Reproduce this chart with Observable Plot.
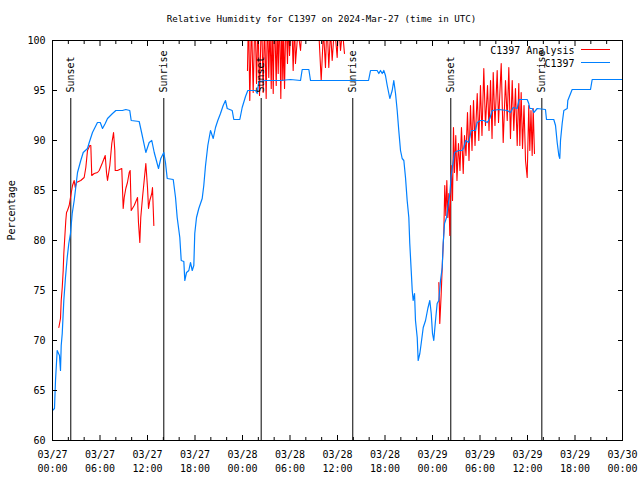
<!DOCTYPE html>
<html>
<head>
<meta charset="utf-8">
<script src="https://cdn.jsdelivr.net/npm/d3@7"></script>
<script src="https://cdn.jsdelivr.net/npm/@observablehq/plot@0.6"></script>
<style>
  body { margin: 0; background: #fff; }
  #chart svg { display: block; }
</style>
</head>
<body>
<div id="chart"></div>
<script>
// ---- Data (hours since 2024-03-27 00:00 UTC) ----
const titleText = "Relative Humidity for C1397 on 2024-Mar-27 (time in UTC)";
const yLabel = "Percentage";
const seriesNames = ["C1397 Analysis", "C1397"];
const seriesColors = ["#ff0000", "#0080ff"];

const obsHours = [0,0.25,0.38,0.59,0.88,1.01,1.1,1.23,1.43,1.64,1.86,2.06,2.27,2.49,2.74,3.16,3.57,3.88,4.42,4.64,5.05,5.68,6.03,6.32,6.66,6.95,7.58,8.0,8.84,9.26,9.76,9.94,10.95,11.28,11.79,12.21,12.54,12.85,13.39,13.68,14.06,14.27,14.49,15.25,15.54,15.75,16.08,16.26,16.59,16.71,16.93,17.22,17.43,17.65,17.85,17.97,18.19,18.48,18.91,19.11,19.33,19.62,19.96,20.3,20.59,20.88,21.22,21.56,21.85,22.07,22.7,22.9,23.66,23.96,24.38,24.67,25.64,25.86,26.06,26.91,28.8,30.06,31.33,31.54,32.38,32.59,33.85,36.38,39.92,40.17,41.01,41.22,41.43,41.65,41.85,42.06,42.28,42.61,42.91,43.11,43.33,43.54,43.74,43.96,44.17,44.38,44.59,44.8,45.01,45.13,45.31,45.44,45.56,45.73,45.85,46.07,46.19,46.4,46.57,46.83,47.12,47.41,47.66,47.84,48.0,48.16,48.38,48.59,48.8,49.01,49.23,49.35,49.52,49.77,49.93,50.19,50.36,50.49,50.78,51.32,51.75,51.96,52.17,52.58,52.89,53.43,53.64,54.06,54.48,54.91,55.24,55.54,56.38,57.44,57.85,58.19,58.7,58.95,59.96,60.16,60.29,60.6,60.8,61.23,62.27,62.4,63.32,63.54,63.75,63.96,64.08,64.17,64.38,64.59,65.02,65.09,65.64,67.96,68.17,72];
const obsValues = [63,63.2,66,69,68.5,67,69.5,70.7,74,76.3,78.3,79.7,80.7,82.7,84,86.8,88,88.8,89.2,89.8,90.8,91.8,91.8,91.2,91.7,92.2,92.7,93,93,93.1,93,92,91.9,90.7,88.8,89.8,90,88.8,87.2,88.2,88.8,87.8,86.2,86.1,84.3,82.3,80.3,78,77.9,76,76.8,77,77.8,77,77.5,80.7,82.3,83.2,84.2,85.5,87.5,89.5,91,90.2,91.3,92,92.7,93.5,94,93.2,93,92.1,92.1,93.3,94.4,95,95,94.7,95.9,96,96,96.1,96,97.1,97.1,96,96,96,96,97,97,96.7,97,96.7,97,96.5,95.5,94.2,95,96,94.7,93,91,89,88.2,88,86.3,84,82.3,79.7,77,75,74,74.7,72,70.3,68,68.7,69.7,71.3,72,73.2,74,72.7,70.7,70,72,73.7,74,76,77.3,79.7,81.7,82.3,83.3,84.7,86.5,87.2,88.8,89,89,89.3,90,89.8,91,91,91.8,92,92,91.8,92.2,93,93.1,93,92.8,93.3,93.2,94.1,94.1,93.7,93.2,93.2,92.8,93.2,93.1,92.1,92.1,91.5,89.8,88.5,88.2,90,91.7,93,93.2,94,95.1,95.1,96.1,96.1];

const anaHours = [0.80,1.01,1.10,1.23,1.35,1.43,1.55,1.68,1.77,1.89,2.11,2.31,2.53,2.74,2.87,3.03,3.57,4.0,4.21,4.42,4.71,4.84,4.96,5.27,5.68,5.9,6.32,6.66,6.82,6.95,7.24,7.49,7.71,7.87,7.92,8.21,8.75,8.93,9.06,9.26,9.47,9.69,9.81,9.94,10.32,10.74,10.86,11.03,11.15,11.37,11.58,11.79,12.0,12.13,12.29,12.54,12.63,12.8,
  18.0,
  24.63,24.76,24.92,25.14,25.35,25.58,25.77,25.96,26.15,26.40,26.61,26.78,26.99,27.16,27.32,27.47,27.63,27.75,27.88,28.04,28.26,28.38,28.51,28.67,28.84,28.96,29.09,29.18,29.31,29.49,29.68,29.81,29.94,30.19,30.40,30.57,30.69,31.01,31.33,31.58,31.96,32.59,33.22,33.60,33.94,34.23,34.48,34.67,34.90,35.12,35.33,35.62,35.96,36.13,36.38,36.63,36.88,
  42.0,
  48.80,48.92,49.10,49.26,49.43,49.55,49.68,49.81,49.93,50.06,50.19,50.36,50.53,50.65,50.78,50.94,51.09,51.28,51.47,51.66,51.88,52.04,52.23,52.42,52.61,52.80,52.99,53.18,53.37,53.65,53.85,54.06,54.25,54.48,54.69,54.95,55.14,55.33,55.52,55.67,55.89,56.17,56.34,56.68,56.93,57.22,57.44,57.64,57.85,58.07,58.27,58.48,58.70,58.90,59.03,59.20,59.37,59.56,59.75,59.96,60.16,60.29,60.44,60.59,60.72,60.88];
const anaValues = [71.3,72.2,74,75.3,77,78.7,80.3,82,82.8,83,83.5,84.5,85.5,86,85.3,85.8,86,86.3,87.3,89,89.5,89.5,86.5,86.7,86.8,87,87.8,88.5,86.8,86,87.5,89.7,90.8,89,87,87,87.2,83.2,84.3,85.2,85.8,86.8,87,83,83.5,84.3,81.8,79.8,82.3,84.3,86,87.7,85.3,83.2,84,84.7,85.3,81.5,
  NaN,
  97,103,94.0,102,94.8,103,95.7,102,94.5,103,94.8,102,94.2,103,96.3,101.5,95.2,102,94.7,103,95.5,102,96.7,103,94.2,102,96,101,95.2,103,97.7,102,98.5,103,97,102,97.7,101,99,102,101,103,102,101.5,96,101,97.3,102,97.3,101,98,101.5,98.3,102,99,101,98.7,
  NaN,
  75.8,71.7,74.7,78,80.8,85.5,82.5,86,82.3,84.7,80.5,87.5,84,91.3,86.8,90.5,86,89.7,87,91.3,86.7,90.5,88.5,92.8,88,93.5,89,94,89.5,94.7,90,95.5,90.5,97.2,91.5,95.5,91,96,90.2,96.8,91.5,97,91.8,97.7,89.8,96,92,97.3,90.2,96,91,95.2,89.5,95.7,89.5,94.8,89.2,93.5,88,86.3,93.5,89,93,88.5,93.2,88.7];

const eventHours = [2.31, 14.06, 26.36, 37.93, 50.31, 61.81];
const eventLabels = ["Sunset", "Sunrise", "Sunset", "Sunrise", "Sunset", "Sunrise"];

const yTicks = [60, 65, 70, 75, 80, 85, 90, 95, 100];

// ---- Build tables ----
const base = Date.UTC(2024, 2, 27);
const toDate = h => new Date(base + h * 3600e3);
const xDomain = [toDate(0), toDate(72)];
const majorTicks = d3.utcHour.every(6).range(xDomain[0], toDate(72.01));
const minorTicks = d3.utcHour.every(2).range(xDomain[0], toDate(72.01)).filter(d => d.getUTCHours() % 6 !== 0);
const fmt = d3.utcFormat("%m/%d\n%H:%M");

const obs = obsHours.map((h, i) => ({t: toDate(h), v: obsValues[i]}));
const ana = anaHours.map((h, i) => ({t: toDate(h), v: anaValues[i]}));
const events = eventHours.map((h, i) => ({t: toDate(h), label: eventLabels[i]}));

const font = "'DejaVu Sans Mono', 'Liberation Mono', monospace";
const blank = () => "";

function legendLines(index, scales, values, dims) {
  const g = d3.create("svg:g");
  const x2 = dims.width - dims.marginRight - 12;
  const x1 = x2 - 29;
  [0, 1].forEach(i => {
    const y = dims.marginTop + 9.5 + i * 13;
    g.append("line").attr("x1", x1).attr("x2", x2).attr("y1", y).attr("y2", y)
      .attr("stroke", seriesColors[i]).attr("stroke-width", 1);
  });
  return g.node();
}

const chart = Plot.plot({
  width: 640,
  height: 480,
  marginLeft: 52,
  marginRight: 18,
  marginTop: 40,
  marginBottom: 40,
  style: {fontFamily: font, fontSize: "10px", background: "#fff", color: "#000"},
  x: {type: "utc", domain: xDomain},
  y: {domain: [60, 100]},
  marks: [
    Plot.ruleX(events, {x: "t", y1: 60, y2: 94.2, stroke: "#000", strokeWidth: 1}),
    Plot.line(ana, {x: "t", y: "v", stroke: seriesColors[0], strokeWidth: 1.1, clip: true}),
    Plot.line(obs, {x: "t", y: "v", stroke: seriesColors[1], strokeWidth: 1.2, clip: true}),
    Plot.text(events, {x: "t", y: 94.8, text: "label", rotate: -90, textAnchor: "start", fill: "#000", fontSize: 10}),
    Plot.frame({stroke: "#000"}),
    // inward ticks
    Plot.axisX({anchor: "bottom", ticks: majorTicks, tickSize: 5, dy: -5, tickFormat: blank, label: null}),
    Plot.axisX({anchor: "bottom", ticks: minorTicks, tickSize: 3, dy: -3, tickFormat: blank, label: null}),
    Plot.axisX({anchor: "top", ticks: majorTicks, tickSize: 5, dy: 5, tickFormat: blank, label: null}),
    Plot.axisX({anchor: "top", ticks: minorTicks, tickSize: 3, dy: 3, tickFormat: blank, label: null}),
    Plot.axisY({anchor: "left", ticks: yTicks, tickSize: 5, dx: 5, tickFormat: blank, label: null}),
    Plot.axisY({anchor: "right", ticks: yTicks, tickSize: 5, dx: -5, tickFormat: blank, label: null}),
    // tick labels
    Plot.axisX({anchor: "bottom", ticks: majorTicks, tickSize: 0, tickPadding: 8, tickFormat: fmt, label: null, lineHeight: 1.35}),
    Plot.axisY({anchor: "left", ticks: yTicks, tickSize: 0, tickPadding: 7, label: null}),
    // title, y label, legend
    Plot.text([titleText], {frameAnchor: "top", lineAnchor: "middle", dx: -16, dy: -21, fontSize: 9.2}),
    Plot.text([yLabel], {frameAnchor: "left", rotate: -90, dx: -41, fontSize: 10}),
    Plot.text([seriesNames[0]], {frameAnchor: "top-right", lineAnchor: "middle", textAnchor: "end", dx: -48, dy: 10, fontSize: 10}),
    Plot.text([seriesNames[1]], {frameAnchor: "top-right", lineAnchor: "middle", textAnchor: "end", dx: -48, dy: 23, fontSize: 10}),
    legendLines
  ]
});
document.getElementById("chart").appendChild(chart);
</script>
</body>
</html>
